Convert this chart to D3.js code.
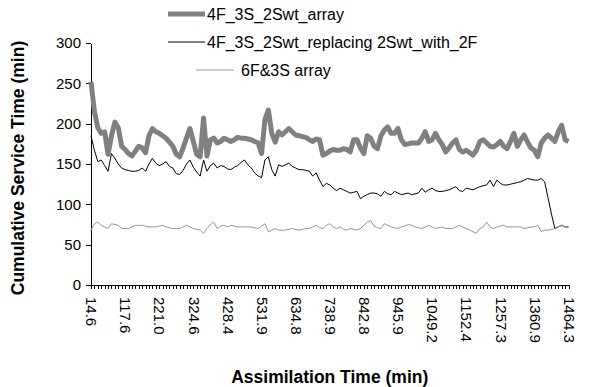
<!DOCTYPE html>
<html>
<head>
<meta charset="utf-8">
<script src="https://cdn.jsdelivr.net/npm/d3@7/dist/d3.min.js"></script>
<style>
  body { margin: 0; background: #fff; }
  text { font-family: "Liberation Sans", Arial, sans-serif; }
</style>
</head>
<body>
<div id="chart"></div>
<script>
// x axis labels (every 10th category is labelled)
var tickLabels = ["14.6", "117.6", "221.0", "324.6", "428.4", "531.9", "634.8", "738.9",
  "842.8", "945.9", "1049.2", "1152.4", "1257.3", "1360.9", "1464.3"];
var yTicks = [0, 50, 100, 150, 200, 250, 300];
var seriesNames = ["4F_3S_2Swt_array", "4F_3S_2Swt_replacing 2Swt_with_2F", "6F&3S array"];

// 4F_3S_2Swt_array
var arrayTimes = [
  252, 215, 195, 188, 190, 162, 185, 202, 195, 172,
  168, 163, 160, 166, 172, 170, 164, 185, 194, 190,
  188, 185, 182, 177, 172, 162, 159, 170, 182, 194,
  178, 162, 159, 207, 160, 180, 182, 176, 178, 182,
  180, 178, 180, 183, 182, 182, 181, 180, 178, 176,
  163, 205, 217, 188, 177, 190, 186, 190, 194, 190,
  186, 185, 184, 183, 180, 178, 181, 180, 161, 163,
  166, 168, 167, 167, 169, 168, 165, 180, 180, 170,
  163, 185, 182, 172, 169, 185, 192, 196, 188, 188,
  194, 180, 174, 175, 176, 176, 176, 182, 190, 178,
  180, 188, 180, 174, 165, 170, 176, 180, 168, 165,
  167, 164, 161, 167, 178, 180, 176, 172, 171, 174,
  178, 172, 169, 178, 188, 172, 180, 186, 177, 170,
  167, 159, 176, 182, 186, 182, 178, 190, 198, 180,
  178];

// 4F_3S_2Swt_replacing 2Swt_with_2F
var replacingTimes = [
  185, 167, 153, 155, 148, 141, 163, 157, 150, 145,
  143, 142, 141, 141, 142, 145, 141, 150, 157, 151,
  148, 150, 153, 147, 145, 138, 137, 142, 150, 155,
  146, 140, 135, 155, 141, 148, 151, 145, 148, 147,
  144, 143, 146, 148, 152, 155, 149, 145, 139, 135,
  133, 155, 159, 143, 135, 149, 147, 149, 151, 147,
  145, 143, 143, 142, 141, 135, 139, 130, 122, 126,
  124, 120, 117, 120, 118, 116, 114, 115, 116, 107,
  110, 112, 114, 114, 113, 110, 116, 113, 112, 116,
  114, 112, 113, 114, 112, 113, 114, 120, 115, 118,
  120, 117, 116, 116, 117, 118, 120, 122, 117, 116,
  120, 119, 118, 120, 122, 123, 124, 130, 122, 130,
  126, 124, 124, 125, 126, 127, 128, 130, 132, 131,
  130, 130, 132, 128, 108, 88, 70, 72, 74, 72,
  72];

// 6F&3S array
var sixF3STimes = [
  68, 76, 78, 74, 72, 70, 76, 75, 74, 70,
  70, 70, 72, 74, 74, 74, 73, 72, 72, 72,
  73, 74, 72, 71, 70, 70, 70, 72, 74, 72,
  70, 69, 68, 64, 70, 75, 78, 70, 73, 74,
  72, 74, 73, 72, 72, 72, 72, 72, 71, 70,
  73, 76, 66, 68, 70, 68, 68, 68, 69, 70,
  69, 68, 69, 70, 70, 72, 74, 71, 70, 74,
  76, 72, 70, 72, 69, 68, 70, 69, 68, 70,
  74, 78, 80, 73, 71, 70, 76, 74, 72, 71,
  70, 72, 73, 75, 74, 72, 71, 70, 72, 74,
  72, 70, 71, 72, 70, 70, 70, 72, 74, 72,
  70, 68, 66, 64, 70, 72, 78, 72, 70, 72,
  73, 74, 72, 72, 72, 72, 72, 70, 71, 72,
  72, 74, 66, 68, 68, 69, 70, 72, 74, 72,
  72];

var width = 603, height = 387;
var plot = { left: 91, right: 568.5, top: 43, bottom: 285 };

var svg = d3.select("#chart")
  .append("svg")
  .attr("width", width)
  .attr("height", height);

var x = d3.scalePoint()
  .domain(d3.range(arrayTimes.length))
  .range([plot.left, plot.right]);

var y = d3.scaleLinear()
  .domain([0, 300])
  .range([plot.bottom, plot.top]);

// Y axis
svg.append("g")
  .attr("transform", "translate(" + plot.left + ",0)")
  .call(d3.axisLeft(y).tickValues(yTicks).tickSize(5).tickPadding(5).tickSizeOuter(0));

// X axis: tick on every category, label every 10th
var xAxis = svg.append("g")
  .attr("transform", "translate(0," + plot.bottom + ")")
  .call(d3.axisBottom(x).tickSize(4).tickSizeOuter(0)
    .tickFormat(function (d) { return d % 10 === 0 ? tickLabels[d / 10] : ""; }));

svg.selectAll(".domain, .tick line").attr("stroke", "#000").attr("shape-rendering", "crispEdges");
svg.selectAll(".tick text").attr("fill", "#000").style("font-size", "15px");

xAxis.selectAll(".tick text")
  .attr("transform", "rotate(90)")
  .attr("x", 12)
  .attr("y", 0)
  .attr("dy", "0.35em")
  .attr("text-anchor", "start");

// Lines
var line = d3.line()
  .x(function (d, i) { return x(i); })
  .y(function (d) { return y(d); });

var styles = [
  { data: arrayTimes, color: "#808080", w: 5 },
  { data: replacingTimes, color: "#000", w: 1 },
  { data: sixF3STimes, color: "#969696", w: 1 }
];

styles.forEach(function (s) {
  svg.append("path")
    .attr("d", line(s.data))
    .attr("fill", "none")
    .attr("stroke", s.color)
    .attr("stroke-width", s.w)
    .attr("stroke-linejoin", "round");
});

// Legend
var legendPos = [
  { x1: 168, x2: 205, tx: 207, y: 14 },
  { x1: 168, x2: 205, tx: 207, y: 42 },
  { x1: 196, x2: 234, tx: 241, y: 70 }
];

legendPos.forEach(function (p, i) {
  svg.append("line")
    .attr("x1", p.x1).attr("x2", p.x2)
    .attr("y1", p.y).attr("y2", p.y)
    .attr("stroke", styles[i].color)
    .attr("stroke-width", styles[i].w);
  svg.append("text")
    .attr("x", p.tx)
    .attr("y", p.y)
    .attr("dy", "0.35em")
    .style("font-size", "16px")
    .text(seriesNames[i]);
});

// Axis titles
svg.append("text")
  .attr("transform", "translate(18," + 168 + ") rotate(-90)")
  .attr("text-anchor", "middle")
  .attr("dy", "0.35em")
  .style("font-size", "17.5px")
  .style("font-weight", "bold")
  .text("Cumulative Service Time (min)");

svg.append("text")
  .attr("x", (plot.left + plot.right) / 2)
  .attr("y", 377)
  .attr("text-anchor", "middle")
  .attr("dy", "0.35em")
  .style("font-size", "17.5px")
  .style("font-weight", "bold")
  .text("Assimilation Time (min)");
</script>
</body>
</html>
